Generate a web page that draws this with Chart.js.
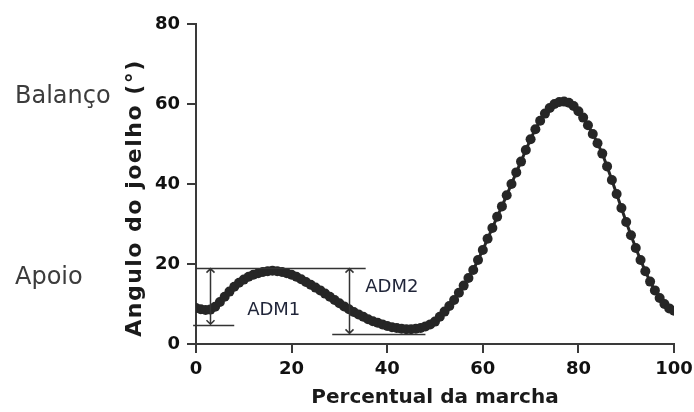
<!DOCTYPE html>
<html>
<head>
<meta charset="utf-8">
<script src="https://cdn.jsdelivr.net/npm/chart.js@4"></script>
<style>
  html, body { margin: 0; padding: 0; background: #ffffff; }
  #wrap { width: 694px; height: 412px; }
</style>
</head>
<body>
<div id="wrap"><canvas id="c" width="694" height="412"></canvas></div>
<script>
// ---- data ----
const gaitPercent = [0,1,2,3,4,5,6,7,8,9,10,11,12,13,14,15,16,17,18,19,20,21,22,23,24,25,26,27,28,29,30,31,32,33,34,35,36,37,38,39,40,41,42,43,44,45,46,47,48,49,50,51,52,53,54,55,56,57,58,59,60,61,62,63,64,65,66,67,68,69,70,71,72,73,74,75,76,77,78,79,80,81,82,83,84,85,86,87,88,89,90,91,92,93,94,95,96,97,98,99,100];
const kneeAngle = [9.0,8.7,8.5,8.6,9.3,10.5,11.8,13.1,14.3,15.3,16.1,16.8,17.3,17.7,18.0,18.2,18.3,18.2,18.0,17.7,17.3,16.8,16.2,15.5,14.8,14.1,13.4,12.6,11.8,11.0,10.2,9.4,8.7,8.0,7.4,6.8,6.2,5.7,5.3,4.9,4.5,4.2,4.0,3.8,3.7,3.7,3.8,4.0,4.4,4.9,5.6,6.8,8.1,9.5,11.0,12.8,14.6,16.5,18.5,21.0,23.5,26.3,29.0,31.8,34.4,37.2,40.0,42.9,45.6,48.5,51.2,53.7,55.8,57.6,59.0,60.0,60.5,60.6,60.3,59.5,58.2,56.6,54.7,52.5,50.2,47.6,44.4,41.0,37.5,34.0,30.5,27.2,24.0,21.0,18.2,15.6,13.4,11.5,10.0,8.9,8.3];
const xTickValues = [0, 20, 40, 60, 80, 100];
const yTickValues = [0, 20, 40, 60, 80];
const xTitle = 'Percentual da marcha';
const yTitle = 'Angulo do joelho (°)';

// range-of-motion markers (data units)
const admTopLine = [0, 35.5, 19.1];      // from %, to %, angle
const adm1LowLine = [-0.6, 8, 4.7];      // from %, to %, angle
const adm2LowLine = [28.5, 48, 2.4];     // from %, to %, angle
const admArrowX = [3, 32];               // % where the arrows sit
const admArrowLow = [4.7, 2.4];          // lower end of each arrow (angle)
const admLabels = ['ADM1', 'ADM2'];
const admLabelAt = [[10.7, 8.4], [35.4, 14.1]]; // [%, angle]
const phaseLabels = ['Balanço', 'Apoio'];
const phaseLabelAngle = [61.7, 16.6];

const points = gaitPercent.map((p, i) => ({ x: p, y: kneeAngle[i] }));

const INK = '#262626';
const AXIS = '#3a3a3a';

const annotPlugin = {
  id: 'annot',
  afterDraw(chart) {
    const { ctx, chartArea, scales: { x, y } } = chart;
    ctx.save();
    ctx.strokeStyle = '#333333';
    ctx.lineWidth = 1.5;
    const hline = (arr) => {
      const py = Math.round(y.getPixelForValue(arr[2])) + 0.5;
      ctx.beginPath();
      ctx.moveTo(x.getPixelForValue(arr[0]), py);
      ctx.lineTo(x.getPixelForValue(arr[1]), py);
      ctx.stroke();
    };
    hline(admTopLine);
    hline(adm1LowLine);
    hline(adm2LowLine);
    admArrowX.forEach((ax, i) => {
      const px = Math.round(x.getPixelForValue(ax)) + 0.5;
      const top = y.getPixelForValue(admTopLine[2]) + 1;
      const bot = y.getPixelForValue(admArrowLow[i]) - 1;
      ctx.beginPath();
      ctx.moveTo(px, top); ctx.lineTo(px, bot);
      ctx.moveTo(px - 4, top + 4); ctx.lineTo(px, top); ctx.lineTo(px + 4, top + 4);
      ctx.moveTo(px - 4, bot - 4); ctx.lineTo(px, bot); ctx.lineTo(px + 4, bot - 4);
      ctx.stroke();
    });
    ctx.fillStyle = '#1f2438';
    ctx.font = '18px "DejaVu Sans"';
    ctx.textBaseline = 'middle';
    ctx.textAlign = 'left';
    admLabels.forEach((t, i) => {
      ctx.fillText(t, x.getPixelForValue(admLabelAt[i][0]), y.getPixelForValue(admLabelAt[i][1]));
    });
    ctx.fillStyle = '#3c3c3c';
    ctx.font = '24px "DejaVu Sans"';
    phaseLabels.forEach((t, i) => {
      ctx.fillText(t, 15, y.getPixelForValue(phaseLabelAngle[i]));
    });
    // y-axis title (drawn here so it can be letter-spaced like the reference)
    ctx.save();
    ctx.translate(chartArea.left - 61, (chartArea.top + chartArea.bottom) / 2 + 14);
    ctx.rotate(-Math.PI / 2);
    ctx.fillStyle = '#1a1a1a';
    ctx.font = 'bold 22px "DejaVu Sans"';
    if ('letterSpacing' in ctx) ctx.letterSpacing = '1.5px';
    ctx.textAlign = 'center';
    ctx.textBaseline = 'middle';
    ctx.fillText(yTitle, 0, 0);
    ctx.restore();
    ctx.restore();
  }
};

new Chart(document.getElementById('c'), {
  type: 'line',
  data: {
    datasets: [{
      data: points,
      borderColor: INK,
      backgroundColor: INK,
      borderWidth: 3,
      pointRadius: 5,
      pointBorderWidth: 0,
      pointBackgroundColor: INK,
      tension: 0,
      fill: false
    }]
  },
  options: {
    responsive: false,
    animation: false,
    events: [],
    layout: { padding: { top: 24, right: 20, left: 0, bottom: 0 } },
    plugins: { legend: { display: false }, tooltip: { enabled: false } },
    scales: {
      x: {
        type: 'linear',
        min: 0, max: 100,
        afterBuildTicks(s) { s.ticks = xTickValues.map(v => ({ value: v })); },
        afterFit(s) { s.height = 68; s.paddingLeft = 0; s.paddingRight = 0; },
        grid: { display: true, drawOnChartArea: false, drawTicks: true, tickLength: 9, color: AXIS, lineWidth: 2 },
        border: { display: true, color: AXIS, width: 2 },
        ticks: { color: '#111', padding: 6, maxRotation: 0, font: { family: 'DejaVu Sans', weight: 'bold', size: 18 } },
        title: { display: true, text: xTitle, color: '#1a1a1a', padding: { top: 0, bottom: 2 }, font: { family: 'DejaVu Sans', weight: 'bold', size: 20 } }
      },
      y: {
        type: 'linear',
        min: 0, max: 80,
        afterBuildTicks(s) { s.ticks = yTickValues.map(v => ({ value: v })); },
        afterFit(s) { s.width = 196; s.paddingTop = 0; s.paddingBottom = 0; },
        grid: { display: true, drawOnChartArea: false, drawTicks: true, tickLength: 9, color: AXIS, lineWidth: 2 },
        border: { display: true, color: AXIS, width: 2 },
        ticks: { color: '#111', padding: 7, font: { family: 'DejaVu Sans', weight: 'bold', size: 18 } },
        title: { display: false }
      }
    }
  },
  plugins: [annotPlugin]
});
</script>
</body>
</html>
